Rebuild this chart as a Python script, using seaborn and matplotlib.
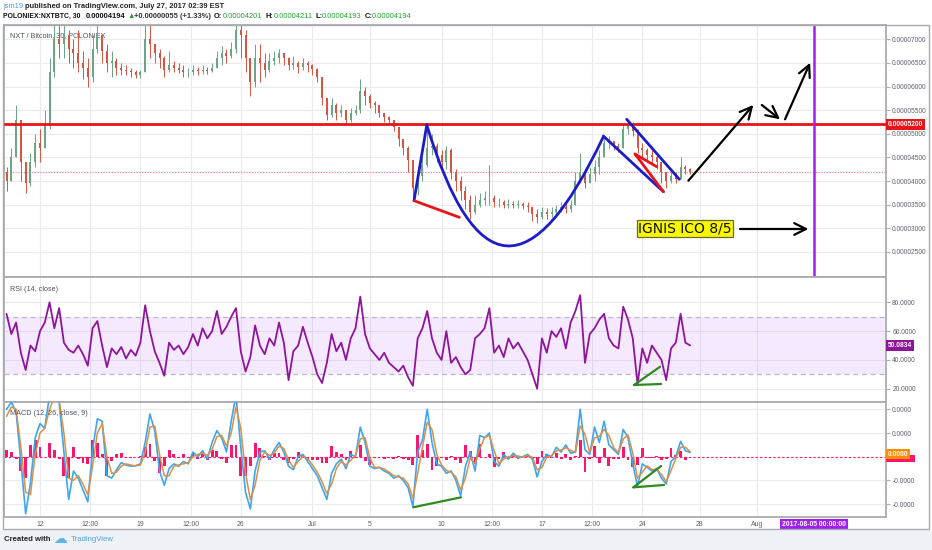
import numpy as np
import matplotlib
matplotlib.use("Agg")
import matplotlib.pyplot as plt
import matplotlib.transforms as mtrans
from matplotlib.patches import Rectangle, PathPatch
from matplotlib.path import Path
from matplotlib.ticker import FuncFormatter
from matplotlib import font_manager as fm
import seaborn as sns

# ---------------- data (prices in satoshi = 1e-8 BTC), 8-hour bars ----------------
first_open = 4200
close = [4000, 4500, 5300, 4400, 3950, 4400, 4800, 4700, 5200, 6300,
         7000, 6900, 7100, 6800, 6700, 6500, 6400, 6200, 6800, 7100,
         6750, 6500, 6550, 6400, 6350, 6330, 6300, 6250, 6300, 7000,
         6900, 6700, 6600, 6350, 6450, 6400, 6350, 6300, 6300, 6350,
         6320, 6350, 6330, 6400, 6600, 6700, 6650, 6800, 7200, 7100,
         6600, 6100, 6600, 6500, 6350, 6550, 6600, 6700, 6600, 6450,
         6500, 6420, 6500, 6450, 6380, 6200, 5750, 5400, 5600, 5450,
         5500, 5300, 5450, 5500, 5900, 5800, 5650, 5600, 5450, 5350,
         5300, 5150, 4900, 4700, 4450, 3850, 4100, 4350, 4700, 4750,
         4550, 4400, 4650, 4200, 4000, 3800, 3600, 3350, 3500, 3600,
         3650, 3650, 3550, 3550, 3500, 3520, 3500, 3520, 3480, 3450,
         3300, 3250, 3350, 3300, 3350, 3400, 3450, 3400, 3500, 4000,
         4200, 3950, 4150, 4300, 4500, 4800, 4850, 4750, 4700, 5100,
         5200, 5050, 4700, 4650, 4550, 4500, 4400, 4200, 4000, 4100,
         4050, 4300, 4250, 4194]
high = [4300, 4700, 5600, 5300, 4400, 4600, 5000, 5100, 5500, 6600,
        7300, 7300, 7300, 7200, 7000, 7200, 6750, 6600, 7100, 7300,
        7100, 6900, 6750, 6600, 6500, 6450, 6400, 6350, 6350, 7300,
        7300, 6900, 6800, 6650, 6750, 6550, 6500, 6450, 6400, 6450,
        6420, 6450, 6420, 6500, 6750, 6850, 6800, 6950, 7300, 7300,
        7200, 6600, 6900, 6900, 6700, 6700, 6750, 6800, 6720, 6620,
        6650, 6550, 6600, 6550, 6480, 6400, 6200, 5750, 5750, 5650,
        5600, 5500, 5550, 5600, 6150, 6000, 5850, 5700, 5600, 5450,
        5380, 5300, 5150, 4900, 4750, 4450, 4300, 4500, 5200, 5000,
        4800, 4650, 4750, 4700, 4250, 4100, 3900, 3700, 3700, 3750,
        3800, 4350, 3700, 3650, 3600, 3620, 3580, 3600, 3560, 3550,
        3450, 3400, 3450, 3420, 3450, 3500, 3550, 3550, 3600, 4200,
        4600, 4250, 4300, 4450, 4650, 4950, 4950, 4850, 4800, 5200,
        5300, 5250, 5100, 4800, 4700, 4650, 4550, 4400, 4200, 4200,
        4200, 4500, 4350, 4280]
low = [3800, 4000, 4500, 4000, 3750, 3900, 4300, 4400, 4700, 5100,
       6200, 6600, 6600, 6500, 6400, 6300, 6150, 6000, 6100, 6700,
       6500, 6300, 6200, 6250, 6250, 6250, 6200, 6180, 6180, 6300,
       6600, 6500, 6400, 6200, 6300, 6300, 6280, 6200, 6200, 6250,
       6250, 6270, 6260, 6300, 6400, 6450, 6500, 6600, 6700, 6600,
       6300, 5800, 6000, 6100, 6200, 6300, 6450, 6500, 6450, 6350,
       6380, 6280, 6350, 6300, 6250, 6100, 5600, 5300, 5350, 5300,
       5350, 5220, 5250, 5400, 5450, 5600, 5550, 5450, 5350, 5250,
       5200, 5050, 4750, 4550, 4200, 3650, 3700, 4000, 4300, 4550,
       4400, 4250, 4250, 4050, 3800, 3600, 3400, 3200, 3300, 3450,
       3500, 3500, 3450, 3450, 3420, 3430, 3420, 3430, 3400, 3350,
       3150, 3120, 3200, 3200, 3250, 3300, 3350, 3330, 3350, 3500,
       3950, 3850, 3950, 4000, 4150, 4500, 4700, 4650, 4620, 4700,
       5000, 4950, 4600, 4500, 4400, 4350, 4250, 3950, 3850, 3950,
       3950, 4050, 4150, 4150]
rsi = [72, 58, 66, 45, 33, 50, 46, 60, 66, 80,
       62, 76, 52, 47, 45, 50, 44, 36, 62, 67,
       50, 35, 48, 44, 49, 41, 47, 43, 52, 78,
       60, 46, 38, 29, 52, 47, 50, 44, 49, 58,
       50, 62, 55, 60, 74, 58, 63, 70, 76, 46,
       32, 42, 64, 50, 44, 55, 50, 66, 52, 26,
       46, 50, 63, 52, 42, 30, 24, 38, 58, 46,
       52, 40, 55, 62, 84, 58, 48, 44, 40, 45,
       38, 35, 32, 36, 28, 22, 55, 62, 74, 55,
       45, 40, 60, 38, 42, 35, 30, 33, 55, 58,
       62, 76, 45, 50, 42, 55, 48, 52, 46, 40,
       30, 20, 55, 45, 60, 56, 62, 48, 66, 74,
       85, 38, 58, 62, 68, 72, 55, 50, 48, 77,
       68, 55, 23, 48, 38, 50, 45, 40, 26, 48,
       52, 72, 52, 50.0834]
macd = [200, 230, 190, -20, -240, -110, 80, 140, 120, 260,
        280, 230, 20, -180, -60, -90, -140, -190, 30, 160,
        150, -80, -90, -55, -25, -35, -40, -38, -30, 60,
        180, 110, -60, -120, -50, -30, -40, -20, -30, 20,
        0, 25, -10, 60, 110, 80, 20, 150, 260, 40,
        -150, -220, -60, 20, 25, -10, 30, 60, 20, -40,
        -55, 0, 10, -20, -50, -80, -130, -180, -70, -30,
        -10, -50, 10, 0, 125, 60, -40, -50, -45, -60,
        -70, -90, -80, -100, -130, -210, 20, 70, 200, 60,
        -30, -40, -70, -60, -100, -165, -40, 20, -60, 90,
        80, 100, -20, -40, 10, -10, 15, -5, 0, 10,
        -10, -85, -20, 10, 0, 40, 20, 50, 15, 20,
        200, 30, 10, 125, 60, 150, 50, 30, 10, 115,
        80, -30, -125, -30, -45, -60, -50, -90, -115, -20,
        0, 65, 25, 18]
hist = [30, 20, -10, -60, -90, 50, 70, 40, 0, 60,
        30, -10, -80, -90, 40, -10, -25, -30, 70, 60,
        10, -80, -20, 10, 15, -5, -5, 0, 5, 40,
        55, -20, -70, -40, 30, 10, -5, 10, -5, 20,
        -10, 10, -15, 30, 25, -10, -25, 50, 50, -80,
        -80, -40, 60, 35, 5, -15, 15, 15, -15, -25,
        -10, 20, 8, -12, -15, -15, -25, -25, 45, 20,
        10, -15, 25, -5, 50, -20, -35, -5, 0, -8,
        -5, -10, 5, -10, -15, -35, 90, 30, 55, -55,
        -40, -5, -12, 5, -15, -25, 50, 25, -30, 55,
        0, 10, -45, -10, 20, -10, 10, -8, 2, 4,
        -8, -30, 25, 12, -4, 15, -8, 12, -12, 2,
        70, -65, -8, 45, -25, 35, -40, -8, -8, 40,
        -12, -45, -35, 35, -6, -6, 4, -15, -10, 38,
        8, 25, -15, -3]

# date axis (days after 12 June 2017 00:00)
date_ticks = [0, 3.5, 7, 10.5, 14, 19, 23, 28, 31.5, 35, 38.5, 42, 46, 50]
date_labels = ["12", "12:00", "19", "12:00", "26", "Jul", "5", "10", "12:00",
               "17", "12:00", "24", "28", "Aug"]
ico_day = 54
resistance = 5200
last_price = 4194

# drawings (day, price)
cup_leg = [(26.08, 3585), (26.97, 5187)]
cup_curve = [(26.97, 5187), (31.94, 193), (39.28, 4939)]
chan_low = [(39.28, 4954), (43.47, 3775)]
chan_up = [(40.91, 5307), (44.58, 4038)]
red_base = [(26.08, 3585), (29.24, 3233)]
red_v1 = [(41.49, 4573), (43.0, 4304)]
red_v2 = [(41.49, 4573), (43.47, 3775)]
arrows = [((45.21, 4008), (49.74, 5610)), ((50.33, 5610), (51.60, 5307)),
          ((51.95, 5307), (53.70, 6505)), ((48.81, 2986), (53.58, 2986))]
ico_box = (44.98, 2992)
rsi_div = [((41.42, 22.6), (43.24, 35.3)), ((41.42, 22.6), (43.31, 23.3))]
macd_div = [((41.37, -129), (43.31, -39)), ((41.37, -129), (43.51, -119)),
            ((26.03, -213), (29.36, -171))]

# ---------------- style ----------------
sns.set_theme(style="white")
avail = {f.name for f in fm.fontManager.ttflist}
if "Liberation Sans Narrow" in avail:
    FN, K = "Liberation Sans Narrow", 1.0
else:
    FN, K = "Liberation Sans", 0.82
plt.rcParams["font.family"] = [FN, "DejaVu Sans"]

UP, DN = "#6ba583", "#d75442"
GRID = "#ebebeb"
TXT = "#5d606b"

W, H = 932, 550
fig = plt.figure(figsize=(W / 100, H / 100), dpi=100, facecolor="white")


def fx(px):
    return px / W


def fy(py):
    return 1 - py / H


fig.add_artist(Rectangle((0, 0), 1, fy(529.5), transform=fig.transFigure,
                         fc="#eef1f5", ec="none", zorder=0))

aw = (886 - 4) / W
ax_p = fig.add_axes([fx(4), fy(277), aw, (277 - 25) / H])
ax_r = fig.add_axes([fx(4), fy(401.7), aw, (401.7 - 277) / H])
ax_m = fig.add_axes([fx(4), fy(517), aw, (517 - 401.7) / H])

fig.add_artist(Rectangle((fx(3), fy(528.5)), (928.5 - 3) / W, (528.5 - 25) / H,
                         transform=fig.transFigure, fill=False, ec="#a9abb0",
                         lw=1.0, zorder=5))

n = len(close)
t = -7 / 3 + np.arange(n) / 3.0
c = np.array(close, float)
op = np.array([first_open] + close[:-1], float)
hi = np.array(high, float)
lo = np.array(low, float)
col = np.where(c >= op, UP, DN)

XL = (-2.51, 58.99)
for ax in (ax_p, ax_r, ax_m):
    ax.set_xlim(*XL)
    ax.set_facecolor("white")
    ax.set_xticks(date_ticks)
    ax.grid(True, color=GRID, lw=0.8)
    ax.set_axisbelow(True)
    for s in ax.spines.values():
        s.set_color("#a9abb0")
        s.set_linewidth(1.3)
    ax.yaxis.tick_right()
    ax.tick_params(axis="y", right=True, left=False, labelright=True,
                   labelleft=False, length=3, width=0.8, color="#b0b0b0",
                   pad=1.5, labelsize=5.8 * K, labelcolor=TXT)
    ax.tick_params(axis="x", length=0, bottom=False)
ax_p.tick_params(axis="x", labelbottom=False)
ax_r.tick_params(axis="x", labelbottom=False)
ax_m.set_xticklabels(date_labels)
ax_m.tick_params(axis="x", labelbottom=True, pad=3, labelsize=6.0 * K,
                 labelcolor=TXT)

# ---------------- price panel ----------------
ax_p.set_ylim(1970, 7303)
ax_p.set_yticks(np.arange(2500, 7001, 500))
ax_p.yaxis.set_major_formatter(FuncFormatter(lambda v, p: f"{v * 1e-8:.8f}"))
ax_p.vlines(t, lo, hi, colors=col, lw=0.7, zorder=3)
ax_p.bar(t, c - op, bottom=op, width=0.14, color=col, lw=0, zorder=4)
ax_p.axhline(last_price, color="#f08a8a", lw=0.9, ls=(0, (1, 1.2)), zorder=2)
ax_p.axhline(resistance, color="#e8141a", lw=2.0, zorder=6)
ax_p.axvline(ico_day, color="#a020f0", lw=1.8, zorder=6)

BLUE = "#1c1cc8"
ax_p.plot(*zip(*cup_leg), color=BLUE, lw=2, zorder=7, solid_capstyle="round")
cup_path = Path(cup_curve, [Path.MOVETO, Path.CURVE3, Path.CURVE3])
ax_p.add_patch(PathPatch(cup_path, fill=False, ec=BLUE, lw=2, zorder=7))
ax_p.plot(*zip(*chan_low), color=BLUE, lw=2, zorder=7)
ax_p.plot(*zip(*chan_up), color=BLUE, lw=2, zorder=7)
for seg in (red_base, red_v1, red_v2):
    ax_p.plot(*zip(*seg), color="#e8141a", lw=2, zorder=7)
for a, b in arrows:
    ax_p.annotate("", xy=b, xytext=a, zorder=8,
                  arrowprops=dict(arrowstyle="->,head_length=0.7,head_width=0.35",
                                  color="black", lw=1.6, mutation_scale=12,
                                  shrinkA=0, shrinkB=0))
ax_p.text(*ico_box, "IGNIS ICO 8/5", ha="center", va="center", fontsize=10,
          family=["DejaVu Sans"], color="#111", zorder=9,
          bbox=dict(boxstyle="square,pad=0.12", fc="#f7f700", ec="#6b6b30", lw=0.9))
ax_p.text(0.0065, 0.958, "NXT / Bitcoin, 30, POLONIEX", transform=ax_p.transAxes,
          ha="left", va="center", fontsize=6.4 * K, color="#4c525e", zorder=1)
bt = mtrans.blended_transform_factory(ax_p.transAxes, ax_p.transData)
ax_p.text(1.002, resistance, "0.00005200", transform=bt, ha="left", va="center",
          fontsize=5.8 * K, color="white", fontweight="bold", clip_on=False,
          zorder=10, bbox=dict(boxstyle="square,pad=0.25", fc="#e8141a", ec="none"))

# ---------------- RSI panel ----------------
ax_r.set_ylim(11.0, 97.6)
ax_r.set_yticks([20, 40, 60, 80])
ax_r.yaxis.set_major_formatter(FuncFormatter(lambda v, p: f"{v:.4f}"))
ax_r.axhspan(30, 70, color="#9915ff", alpha=0.09, lw=0, zorder=1)
ax_r.axhline(70, color="#b8b8c8", lw=0.9, ls=(0, (4, 3)), zorder=2)
ax_r.axhline(30, color="#b8b8c8", lw=0.9, ls=(0, (4, 3)), zorder=2)
sns.lineplot(x=t, y=np.array(rsi), ax=ax_r, color="#8e1599", lw=1.3,
             estimator=None, sort=False, zorder=4)
for a, b in rsi_div:
    ax_r.plot([a[0], b[0]], [a[1], b[1]], color="#2f8a1f", lw=1.6, zorder=5)
ax_r.text(0.0065, 0.9, "RSI (14, close)", transform=ax_r.transAxes, ha="left",
          va="center", fontsize=6.4 * K, color="#4c525e")
bt_r = mtrans.blended_transform_factory(ax_r.transAxes, ax_r.transData)
ax_r.text(1.002, rsi[-1], f"{rsi[-1]:.4f}", transform=bt_r, ha="left",
          va="center", fontsize=5.8 * K, color="white", fontweight="bold",
          clip_on=False, zorder=10,
          bbox=dict(boxstyle="square,pad=0.25", fc="#8e1599", ec="none"))

# ---------------- MACD panel ----------------
m = np.array(macd, float)
h = np.array(hist, float)
sig = m - h
ax_m.set_ylim(-254, 232)
ax_m.set_yticks([-200, -100, 0, 100, 200])
# the zero label sits under the value tags, as in the reference
ax_m.yaxis.set_major_formatter(
    FuncFormatter(lambda v, p: "" if abs(v) < 1e-9 else f"{v * 1e-8:.4f}"))
ax_m.bar(t, h, width=0.2, color="#f8176d", lw=0, zorder=2)
ax_m.axhline(0, color="#f8176d", lw=0.8, ls=(0, (2, 2)), zorder=2)
sns.lineplot(x=t, y=m, ax=ax_m, color="#3ea6ee", lw=1.2, estimator=None,
             sort=False, zorder=4)
sns.lineplot(x=t, y=sig, ax=ax_m, color="#d8904a", lw=1.1, estimator=None,
             sort=False, zorder=5)
for a, b in macd_div:
    ax_m.plot([a[0], b[0]], [a[1], b[1]], color="#2f8a1f", lw=1.6, zorder=6)
ax_m.text(0.0065, 0.9, "MACD (12, 26, close, 9)", transform=ax_m.transAxes,
          ha="left", va="center", fontsize=6.4 * K, color="#4c525e", zorder=7)
bt_m = mtrans.blended_transform_factory(ax_m.transAxes, ax_m.transData)
# histogram value tag (partly hidden behind the signal tag)
ax_m.add_patch(Rectangle((1.0, -21), 29 / 882, 28, transform=bt_m,
                         fc="#f8176d", ec="none", clip_on=False, zorder=9))
ax_m.text(1.002, sig[-1] - 10, "0.0000", transform=bt_m, ha="left", va="center",
          fontsize=5.8 * K, color="white", fontweight="bold", clip_on=False,
          zorder=11, bbox=dict(boxstyle="square,pad=0.25", fc="#ff8c00", ec="none"))
bt_x = mtrans.blended_transform_factory(ax_m.transData, ax_m.transAxes)
ax_m.text(ico_day, -0.062, "2017-08-05 00:00:00", transform=bt_x, ha="center",
          va="center", fontsize=6.0 * K, color="white", fontweight="bold",
          clip_on=False, zorder=10,
          bbox=dict(boxstyle="square,pad=0.3", fc="#a020f0", ec="none"))

# ---------------- header & footer ----------------
hs = 6.6 * K
fig.text(fx(3.3), fy(6.3), "jsm19", ha="left", va="center", fontsize=hs,
         color="#4a9ad8")
fig.text(fx(25), fy(6.3), "published on TradingView.com, July 27, 2017 02:39 EST",
         ha="left", va="center", fontsize=hs, color="#222", fontweight="bold")
GREEN = "#1fa32e"
hdr2 = [("POLONIEX:NXTBTC, 30", 3.3, "#111", "bold", 6.0),
        ("0.00004194", 86, "#111", "bold", 6.6),
        ("\u25b2", 127.3, GREEN, "normal", 6.6),
        ("+0.00000055 (+1.33%)", 133.5, "#333", "bold", 6.6),
        ("O:", 213.3, "#111", "bold", 6.6), ("0.00004201", 222.7, GREEN, "normal", 6.6),
        ("H:", 265, "#111", "bold", 6.6), ("0.00004211", 273.3, GREEN, "normal", 6.6),
        ("L:", 315.7, "#111", "bold", 6.6), ("0.00004193", 321.7, GREEN, "normal", 6.6),
        ("C:", 364.3, "#111", "bold", 6.6), ("0.00004194", 371.7, GREEN, "normal", 6.6)]
for txt, px, cc, wt, fs in hdr2:
    fig.text(fx(px), fy(16.7), txt, ha="left", va="center", fontsize=fs * K,
             color=cc, fontweight=wt)

fig.text(fx(4), fy(539.3), "Created with", ha="left", va="center",
         fontsize=6.8 * K, color="#222", fontweight="bold")
fig.text(fx(53), fy(539.3), "\u2601", ha="left", va="center", fontsize=10,
         family=["DejaVu Sans"], color="#5fb3e6")
fig.text(fx(70.5), fy(539.3), "TradingView", ha="left", va="center",
         fontsize=6.8 * K, color="#4aa3df")

fig.savefig("out.png", dpi=100, facecolor=fig.get_facecolor())
